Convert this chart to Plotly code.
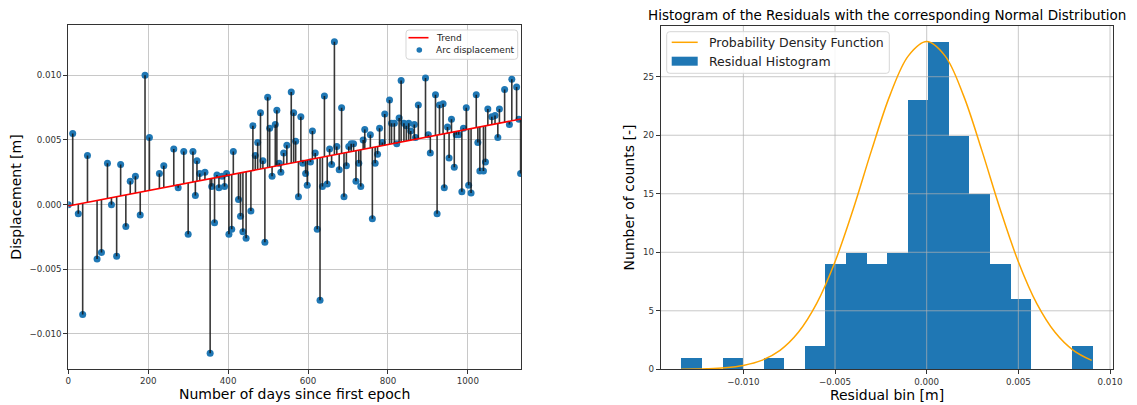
import plotly.graph_objects as go

# ---- Arc displacement time series ----
days = [0, 11, 25, 36, 48, 72, 83, 98, 108, 121,
        131, 144, 155, 168, 180, 192, 203, 228, 239, 264,
        275, 289, 300, 312, 318, 322, 329, 342, 355, 359,
        366, 372, 377, 385, 391, 396, 402, 409, 413, 426,
        431, 437, 445, 457, 462, 468, 474, 481, 487, 492,
        499, 504, 510, 518, 522, 528, 532, 539, 547, 558,
        564, 569, 576, 582, 587, 594, 598, 606, 611, 618,
        623, 630, 636, 641, 648, 654, 659, 666, 672, 678,
        684, 690, 696, 702, 708, 714, 720, 727, 732, 738,
        742, 756, 761, 768, 774, 779, 786, 792, 804, 809,
        816, 822, 828, 833, 840, 846, 852, 857, 866, 869,
        876, 894, 901, 906, 919, 923, 929, 938, 941, 949,
        953, 959, 966, 971, 977, 985, 989, 996, 1002, 1008,
        1021, 1025, 1030, 1039, 1044, 1050, 1060, 1068, 1075, 1079,
        1092, 1104, 1110, 1122, 1128, 1132]

displacement = [0.0000, 0.0055, -0.0007, -0.0085, 0.0038, -0.0042, -0.0037, 0.0032, 0.0000, -0.0040,
                0.0031, -0.0017, 0.0018, 0.0022, -0.0008, 0.0100, 0.0052, 0.0024, 0.0030, 0.0043,
                0.0013, 0.0041, -0.0023, 0.0041, 0.0007, 0.0034, 0.0024, 0.0025, -0.0115, 0.0014,
                -0.0014, 0.0023, 0.0013, 0.0022, 0.0014, 0.0024, -0.0023, -0.0019, 0.0041, 0.0004,
                -0.0009, -0.0021, -0.0026, -0.0005, 0.0061, 0.0038, 0.0048, 0.0071, 0.0034, -0.0029,
                0.0083, 0.0059, 0.0022, 0.0062, 0.0073, 0.0032, 0.0025, 0.0040, 0.0046, 0.0087,
                0.0071, 0.0049, 0.0006, 0.0068, 0.0032, 0.0024, 0.0015, 0.0033, 0.0057, 0.0040,
                -0.0019, -0.0074, 0.0014, 0.0084, 0.0016, 0.0043, 0.0031, 0.0126, 0.0045, 0.0027,
                0.0075, 0.0006, 0.0030, 0.0045, 0.0047, 0.0047, 0.0018, 0.0032, 0.0014, 0.0050,
                0.0058, 0.0054, -0.0011, 0.0032, 0.0039, 0.0059, 0.0048, 0.0070, 0.0081, 0.0063,
                0.0063, 0.0047, 0.0067, 0.0096, 0.0063, 0.0061, 0.0063, 0.0057, 0.0062, 0.0052,
                0.0077, 0.0098, 0.0054, 0.0040, 0.0085, -0.0007, 0.0077, 0.0078, 0.0013, 0.0060,
                0.0036, 0.0066, 0.0029, 0.0054, 0.0054, 0.0010, 0.0059, 0.0075, 0.0015, 0.0009,
                0.0085, 0.0048, 0.0026, 0.0026, 0.0033, 0.0074, 0.0068, 0.0069, 0.0052, 0.0074,
                0.0089, 0.0062, 0.0097, 0.0091, 0.0066, 0.0024]

# linear trend (intercept in m, slope in m/day)
trend_intercept = -0.0001
trend_slope = 5.93e-6

# ---- Residual histogram ----
hist_counts = [1, 0, 1, 0, 1, 0, 2, 9, 10, 9, 10, 23, 28, 20, 15, 9, 6, 0, 0, 2]
hist_lo = -0.01340
hist_hi = 0.00905

# fitted normal distribution (scaled to counts), sampled along the residual range
pdf_x = [-0.0134, -0.012, -0.011, -0.010, -0.009, -0.008, -0.007, -0.006, -0.005, -0.004,
         -0.003, -0.002, -0.001, 0.000, 0.001, 0.002, 0.003, 0.004, 0.005, 0.006,
         0.007, 0.008, 0.009]
pdf_y = [0.01, 0.05, 0.13, 0.33, 0.76, 1.62, 3.16, 5.63, 9.19, 13.72,
         18.75, 23.43, 26.78, 28.0, 26.78, 23.43, 18.75, 13.72, 9.19, 5.63,
         3.16, 1.62, 0.76]

x_ticks_days = [0, 200, 400, 600, 800, 1000]
y_ticks_disp = [-0.010, -0.005, 0.000, 0.005, 0.010]
x_ticks_res = [-0.010, -0.005, 0.000, 0.005, 0.010]
y_ticks_cnt = [0, 5, 10, 15, 20, 25]

W, H = 1137, 405
FONT = "DejaVu Sans"
BLUE = "#1f77b4"
ORANGE = "orange"
GRID = "rgba(176,176,176,0.7)"

X1_RANGE = [0, 1133]
Y1_RANGE = [-0.01271, 0.01389]
X2_RANGE = [-0.01451, 0.01018]
Y2_RANGE = [0, 29.36]


def px_x(p):
    return p / W


def px_y(p):
    return 1 - p / H


def rounded_box(x0, y0, x1, y1, r=3):
    """SVG path (paper coords) of a rounded rectangle given in pixels."""
    pts = [("M", x0 + r, y0), ("L", x1 - r, y0), ("Q", x1, y0, x1, y0 + r),
           ("L", x1, y1 - r), ("Q", x1, y1, x1 - r, y1), ("L", x0 + r, y1),
           ("Q", x0, y1, x0, y1 - r), ("L", x0, y0 + r), ("Q", x0, y0, x0 + r, y0)]
    out = []
    for p in pts:
        cmd, vals = p[0], p[1:]
        coords = []
        for i in range(0, len(vals), 2):
            coords.append(f"{px_x(vals[i]):.6f},{px_y(vals[i + 1]):.6f}")
        out.append(cmd + " " + " ".join(coords))
    return " ".join(out) + " Z"


trend_at = [trend_intercept + trend_slope * d for d in days]
trend_x = [X1_RANGE[0], X1_RANGE[1]]
trend_y = [trend_intercept + trend_slope * d for d in trend_x]

stem_x, stem_y = [], []
for d, v, t in zip(days, displacement, trend_at):
    stem_x += [d, d, None]
    stem_y += [t, v, None]

n_bins = len(hist_counts)
bin_w = (hist_hi - hist_lo) / n_bins
bin_centers = [hist_lo + bin_w * (i + 0.5) for i in range(n_bins)]

# histogram grid lines sit above the bars but below the density curve
grid2_x, grid2_y = [], []
for xv in x_ticks_res:
    grid2_x += [xv, xv, None]
    grid2_y += [Y2_RANGE[0], Y2_RANGE[1], None]
for yv in y_ticks_cnt[1:]:
    grid2_x += [X2_RANGE[0], X2_RANGE[1], None]
    grid2_y += [yv, yv, None]

fig = go.Figure()

fig.add_trace(go.Scatter(
    x=days, y=displacement, mode="markers", name="Arc displacement",
    marker=dict(color=BLUE, size=7), xaxis="x", yaxis="y", showlegend=False,
))
fig.add_trace(go.Scatter(
    x=stem_x, y=stem_y, mode="lines", showlegend=False, hoverinfo="skip",
    line=dict(color="rgba(20,20,20,0.85)", width=1.6), xaxis="x", yaxis="y",
))
fig.add_trace(go.Scatter(
    x=trend_x, y=trend_y, mode="lines", name="Trend", showlegend=False,
    line=dict(color="red", width=1.6), xaxis="x", yaxis="y",
))

fig.add_trace(go.Bar(
    x=bin_centers, y=hist_counts, width=[bin_w] * n_bins, name="Residual Histogram",
    marker=dict(color=BLUE, line=dict(width=0)), showlegend=False,
    xaxis="x2", yaxis="y2",
))
fig.add_trace(go.Scatter(
    x=grid2_x, y=grid2_y, mode="lines", showlegend=False, hoverinfo="skip",
    line=dict(color=GRID, width=1), xaxis="x2", yaxis="y2",
))
fig.add_trace(go.Scatter(
    x=pdf_x, y=pdf_y, mode="lines", name="Probability Density Function",
    line=dict(color=ORANGE, width=1.5, shape="spline", smoothing=1.0),
    xaxis="x2", yaxis="y2", showlegend=False,
))

axis_common = dict(
    showline=True, mirror=True, linecolor="#333", linewidth=1,
    showgrid=True, gridcolor="#c8c8c8", gridwidth=1,
    ticks="outside", ticklen=4, tickcolor="#333",
    tickfont=dict(family=FONT, size=8.7, color="#333"),
    zeroline=False, automargin=False,
)

# legend boxes, drawn in pixel positions converted to paper space
shapes = [
    dict(type="path", xref="paper", yref="paper", layer="above",
         path=rounded_box(406, 30, 517.7, 59.3),
         fillcolor="rgba(255,255,255,0.85)", line=dict(color="#d6d6d6", width=1)),
    dict(type="line", xref="paper", yref="paper", layer="above",
         x0=px_x(408.5), x1=px_x(428.5), y0=px_y(37.7), y1=px_y(37.7),
         line=dict(color="red", width=1.6)),
    dict(type="circle", xref="paper", yref="paper", layer="above",
         x0=px_x(416.5), x1=px_x(422.1), y0=px_y(52.8), y1=px_y(47.2),
         fillcolor=BLUE, line=dict(width=0)),
    dict(type="path", xref="paper", yref="paper", layer="above",
         path=rounded_box(666.7, 31.7, 889.3, 73.3),
         fillcolor="rgba(255,255,255,0.85)", line=dict(color="#d6d6d6", width=1)),
    dict(type="line", xref="paper", yref="paper", layer="above",
         x0=px_x(671.7), x1=px_x(697.7), y0=px_y(42.3), y1=px_y(42.3),
         line=dict(color=ORANGE, width=1.5)),
    dict(type="rect", xref="paper", yref="paper", layer="above",
         x0=px_x(671.7), x1=px_x(697.7), y0=px_y(65.7), y1=px_y(56.7),
         fillcolor=BLUE, line=dict(width=0)),
]

annotations = [
    dict(text="Histogram of the Residuals with the corresponding Normal Distribution",
         x=px_x(887), y=px_y(15), xref="paper", yref="paper",
         xanchor="center", yanchor="middle", showarrow=False,
         font=dict(family=FONT, size=13.5, color="black")),
    dict(text="Trend", x=px_x(434.3), y=px_y(37.7), xref="paper", yref="paper",
         xanchor="left", yanchor="middle", showarrow=False,
         font=dict(family=FONT, size=9, color="#222")),
    dict(text="Arc displacement", x=px_x(434.3), y=px_y(50), xref="paper", yref="paper",
         xanchor="left", yanchor="middle", showarrow=False,
         font=dict(family=FONT, size=9, color="#222")),
    dict(text="Probability Density Function", x=px_x(707.3), y=px_y(42.3),
         xref="paper", yref="paper", xanchor="left", yanchor="middle", showarrow=False,
         font=dict(family=FONT, size=12.5, color="#222")),
    dict(text="Residual Histogram", x=px_x(707.3), y=px_y(61.2),
         xref="paper", yref="paper", xanchor="left", yanchor="middle", showarrow=False,
         font=dict(family=FONT, size=12.5, color="#222")),
]

fig.update_layout(
    width=W, height=H,
    margin=dict(l=0, r=0, t=0, b=0),
    paper_bgcolor="white", plot_bgcolor="white",
    font=dict(family=FONT, color="black"),
    bargap=0,
    showlegend=False,
    xaxis=dict(
        axis_common, domain=[px_x(68.3), px_x(521)], range=X1_RANGE,
        tickvals=x_ticks_days, anchor="y",
        title=dict(text="Number of days since first epoch",
                   font=dict(family=FONT, size=14), standoff=3),
    ),
    yaxis=dict(
        axis_common, domain=[px_y(369), px_y(25)], range=Y1_RANGE,
        tickvals=y_ticks_disp, tickformat=".3f", anchor="x",
        title=dict(text="Displacement [m]", font=dict(family=FONT, size=14), standoff=4),
    ),
    xaxis2=dict(
        axis_common, domain=[px_x(660.7), px_x(1113.3)], range=X2_RANGE,
        tickvals=x_ticks_res, tickformat=".3f", anchor="y2", showgrid=False,
        title=dict(text="Residual bin [m]", font=dict(family=FONT, size=14), standoff=3),
    ),
    yaxis2=dict(
        axis_common, domain=[px_y(369.3), px_y(25.7)], range=Y2_RANGE,
        tickvals=y_ticks_cnt, anchor="x2", showgrid=False,
        title=dict(text="Number of counts [-]", font=dict(family=FONT, size=14), standoff=4),
    ),
    shapes=shapes,
    annotations=annotations,
)

fig.write_html("out.html")
